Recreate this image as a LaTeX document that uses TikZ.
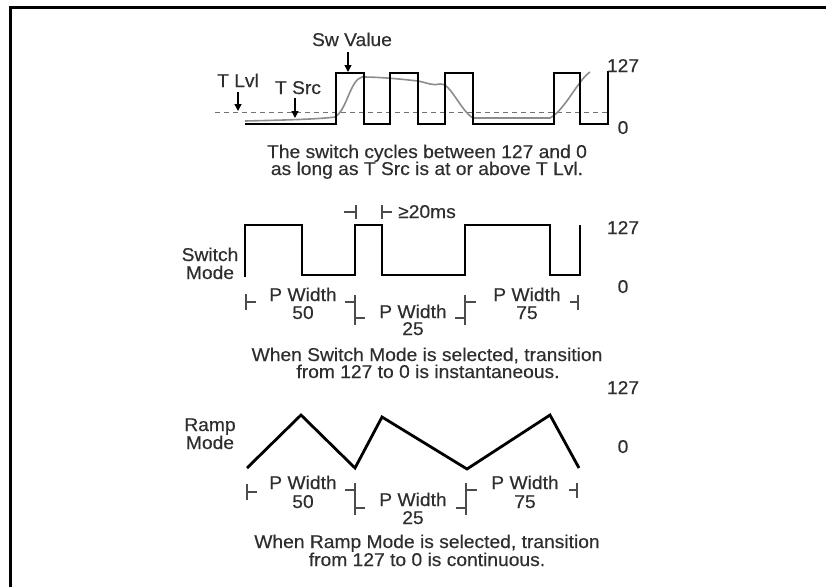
\documentclass[tikz,border=0pt]{standalone}
\usepackage{fontspec}
\setmainfont[FakeStretch=1.04,FakeBold=0.4]{Liberation Sans}
\usetikzlibrary{arrows.meta}
\begin{document}
\begin{tikzpicture}[x=1pt,y=-1pt,
  txt/.style={inner sep=0pt, anchor=base, text=black!82, font=\fontsize{18.5}{17}\selectfont},
  wave/.style={line width=2.8pt, black, line join=miter},
  tsrc/.style={line width=1.6pt, black!45, line join=round},
  tickln/.style={line width=1.2pt, black!70},
  arr/.style={line width=1.4pt, black, -{Triangle[length=7pt,width=7pt]}},
  frame/.style={line width=3pt, black}
]
\useasboundingbox (0,0) rectangle (826,587);
% frame
\draw[frame] (826,7) -| (10,587);

% ================= top panel =================
\draw[dashed, black!55, line width=1pt, dash pattern=on 5pt off 4pt] (215,112) -- (608,112);
\draw[tsrc] (245,121) .. controls (290,120) and (320,119) .. (335,117)
  .. controls (347,110) and (350,80) .. (362,77)
  .. controls (380,77) and (400,79) .. (418,81)
  .. controls (428,83) and (433,86) .. (440,84)
  .. controls (450,82) and (460,110) .. (473,118)
  -- (550,118)
  .. controls (565,110) and (578,80) .. (590,72);
\draw[wave] (245,124) -- (336,124) -- (336,73) -- (364,73) -- (364,124) -- (390,124)
  -- (390,73) -- (418,73) -- (418,124) -- (445,124) -- (445,73) -- (473,73) -- (473,124)
  -- (554,124) -- (554,73) -- (580,73) -- (580,124) -- (608,124) -- (608,71);

\node[txt] (swv) at (352,46) {Sw Value};
\node[txt] (tlvl) at (238,87) {T Lvl};
\node[txt] (tsrcl) at (298,94) {T Src};
\coordinate (swvA) at (348,52); \coordinate (swvB) at (348,72);
\coordinate (tlvlA) at (238,92); \coordinate (tlvlB) at (238,111);
\coordinate (tsrcA) at (295,98); \coordinate (tsrcB) at (295,118);
\draw[arr] (swvA) -- (swvB);
\draw[arr] (tlvlA) -- (tlvlB);
\draw[arr] (tsrcA) -- (tsrcB);
\node[txt] (t127) at (623,72) {127};
\node[txt] (t0) at (623,134) {0};
\node[txt] (cap1a) at (427,158) {The switch cycles between 127 and 0};
\node[txt] (cap1b) at (427,175) {as long as T Src is at or above T Lvl.};

% ================= switch mode =================
\draw[wave] (245,277) -- (245,225) -- (302,225) -- (302,275) -- (355,275) -- (355,225)
  -- (382,225) -- (382,275) -- (465,275) -- (465,225) -- (550,225) -- (550,275)
  -- (580,275) -- (580,225);
% >=20ms markers
\coordinate (msL1) at (344,212); \coordinate (msL2) at (356,212);
\coordinate (msLt) at (356,205); \coordinate (msLb) at (356,219);
\coordinate (msR1) at (382,212); \coordinate (msR2) at (392,212);
\coordinate (msRt) at (382,205); \coordinate (msRb) at (382,219);
\draw[tickln] (msL1) -- (msL2) (msLt) -- (msLb) (msR1) -- (msR2) (msRt) -- (msRb);
\node[txt] (ms) at (427,218) {≥20ms};

\node[txt] (swl1) at (210,261) {Switch};
\node[txt] (swl2) at (210,279) {Mode};
\node[txt] (s127) at (623,234) {127};
\node[txt] (s0) at (623,293) {0};

% pulse width markers
\coordinate (sa1) at (246,294); \coordinate (sa2) at (246,310);
\coordinate (sa3) at (246,302); \coordinate (sa4) at (256,302);
\coordinate (sb1) at (355,295); \coordinate (sb2) at (355,325);
\coordinate (sb3) at (345,302); \coordinate (sb4) at (355,302);
\coordinate (sb5) at (355,318); \coordinate (sb6) at (365,318);
\coordinate (sc1) at (465,295); \coordinate (sc2) at (465,325);
\coordinate (sc3) at (455,318); \coordinate (sc4) at (465,318);
\coordinate (sc5) at (465,302); \coordinate (sc6) at (476,302);
\coordinate (sd1) at (578,295); \coordinate (sd2) at (578,310);
\coordinate (sd3) at (570,302); \coordinate (sd4) at (578,302);
\draw[tickln] (sa1) -- (sa2) (sa3) -- (sa4)
  (sb1) -- (sb2) (sb3) -- (sb4) (sb5) -- (sb6)
  (sc1) -- (sc2) (sc3) -- (sc4) (sc5) -- (sc6)
  (sd1) -- (sd2) (sd3) -- (sd4);
\node[txt] (spw50) at (303,301) {P Width};
\node[txt] (sn50) at (303,319) {50};
\node[txt] (spw25) at (413,318) {P Width};
\node[txt] (sn25) at (413,335) {25};
\node[txt] (spw75) at (527,301) {P Width};
\node[txt] (sn75) at (527,319) {75};
\node[txt] (cap2a) at (427,361) {When Switch Mode is selected, transition};
\node[txt] (cap2b) at (428,378) {from 127 to 0 is instantaneous.};

% ================= ramp mode =================
\draw[wave] (247,468) -- (301,415) -- (355,468) -- (382,417) -- (467,469) -- (550,415) -- (579,468);
\node[txt] (rl1) at (210,431) {Ramp};
\node[txt] (rl2) at (210,449) {Mode};
\node[txt] (r127) at (623,394) {127};
\node[txt] (r0) at (623,453) {0};

\coordinate (ra1) at (247,484); \coordinate (ra2) at (247,500);
\coordinate (ra3) at (247,492); \coordinate (ra4) at (257,492);
\coordinate (rb1) at (355,483); \coordinate (rb2) at (355,515);
\coordinate (rb3) at (345,490); \coordinate (rb4) at (355,490);
\coordinate (rb5) at (355,508); \coordinate (rb6) at (365,508);
\coordinate (rc1) at (466,483); \coordinate (rc2) at (466,515);
\coordinate (rc3) at (456,508); \coordinate (rc4) at (466,508);
\coordinate (rc5) at (466,490); \coordinate (rc6) at (477,490);
\coordinate (rd1) at (577,483); \coordinate (rd2) at (577,498);
\coordinate (rd3) at (569,490); \coordinate (rd4) at (577,490);
\draw[tickln] (ra1) -- (ra2) (ra3) -- (ra4)
  (rb1) -- (rb2) (rb3) -- (rb4) (rb5) -- (rb6)
  (rc1) -- (rc2) (rc3) -- (rc4) (rc5) -- (rc6)
  (rd1) -- (rd2) (rd3) -- (rd4);
\node[txt] (rpw50) at (303,489) {P Width};
\node[txt] (rn50) at (303,508) {50};
\node[txt] (rpw25) at (413,506) {P Width};
\node[txt] (rn25) at (413,524) {25};
\node[txt] (rpw75) at (525,489) {P Width};
\node[txt] (rn75) at (525,508) {75};
\node[txt] (cap3a) at (427,548) {When Ramp Mode is selected, transition};
\node[txt] (cap3b) at (427,566) {from 127 to 0 is continuous.};
\end{tikzpicture}
\end{document}
